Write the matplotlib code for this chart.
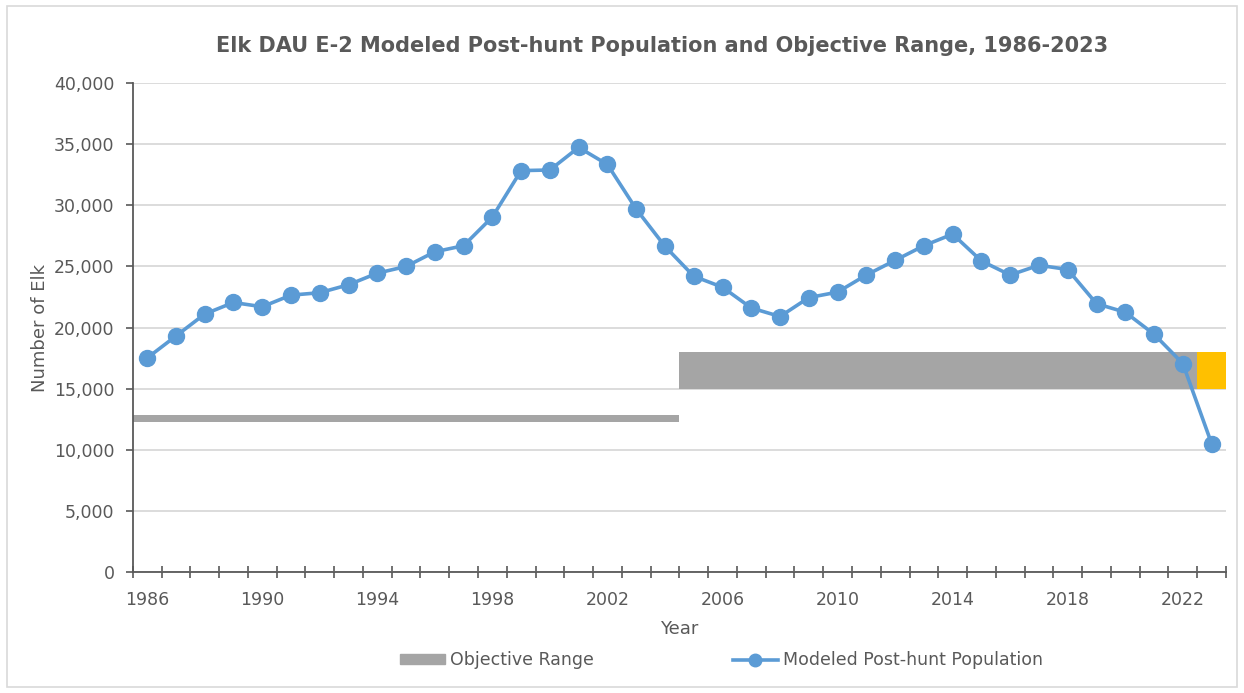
import matplotlib.pyplot as plt
from matplotlib.patches import Patch, Rectangle
from matplotlib.lines import Line2D
from matplotlib.ticker import FuncFormatter, MultipleLocator

# Modeled post-hunt population
years = list(range(1986, 2024))
population = [17500, 19300, 21100, 22050, 21700, 22650, 22850, 23500, 24450, 25000,
              26200, 26700, 29050, 32850, 32900, 34750, 33350, 29700, 26650, 24200,
              23300, 21600, 20900, 22450, 22900, 24300, 25500, 26700, 27650, 25450,
              24300, 25100, 24750, 21950, 21250, 19450, 17050, 10500]

# Objective range (min / max) by period
old_years = list(range(1986, 2005))
old_min = 12300
old_max = 12850
new_years = list(range(2005, 2023))
new_min = 15000
new_max = 18000
last_year = [2023]

GREY_TXT = '#595959'
BLUE = '#5B9BD5'
RANGE_GREY = '#A5A5A5'
GOLD = '#FFC000'


def do_plot():
    fig = plt.figure(figsize=(12.44, 6.93), dpi=100)
    ax = fig.add_axes([0.1067, 0.175, 0.8788, 0.7048])

    ax.bar(old_years, [old_max - old_min] * len(old_years), bottom=old_min,
           width=1.0, color=RANGE_GREY, linewidth=0, zorder=2)
    ax.bar(new_years, [new_max - new_min] * len(new_years), bottom=new_min,
           width=1.0, color=RANGE_GREY, linewidth=0, zorder=2)
    ax.bar(last_year, [new_max - new_min], bottom=new_min,
           width=1.0, color=GOLD, linewidth=0, zorder=2)

    ax.plot(years, population, '-o', color=BLUE, lw=2.6, ms=11.5, zorder=3)

    ax.set_xlim(1985.5, 2023.5)
    ax.set_ylim(0, 40000)
    ax.yaxis.set_major_locator(MultipleLocator(5000))
    ax.yaxis.set_major_formatter(FuncFormatter(lambda v, p: '{:,.0f}'.format(v)))
    ax.grid(axis='y', color='#d9d9d9', lw=1.3, zorder=0)
    ax.set_axisbelow(True)

    ax.set_xticks(list(range(1986, 2024, 4)))
    ax.set_xticks([1985.5 + k for k in range(39)], minor=True)
    ax.tick_params(axis='x', which='major', length=0, pad=14,
                   labelsize=12.5, labelcolor=GREY_TXT)
    ax.tick_params(axis='x', which='minor', direction='inout', length=9,
                   width=1.2, color='#595959')
    ax.tick_params(axis='y', which='major', direction='out', length=5,
                   width=1.2, color='#595959', labelsize=12.5,
                   labelcolor=GREY_TXT, pad=8)

    for s in ['top', 'right']:
        ax.spines[s].set_visible(False)
    for s in ['left', 'bottom']:
        ax.spines[s].set_color('#595959')
        ax.spines[s].set_linewidth(1.3)

    ax.set_ylabel('Number of Elk', fontsize=13, color=GREY_TXT, labelpad=4)
    ax.set_xlabel('Year', fontsize=13, color=GREY_TXT, labelpad=8)
    fig.text(0.532, 0.934, 'Elk DAU E-2 Modeled Post-hunt Population and Objective Range, 1986-2023',
             ha='center', va='center', fontsize=15, fontweight='bold', color=GREY_TXT)

    handles = [Patch(color=RANGE_GREY),
               Line2D([], [], color=BLUE, lw=2.6, marker='o', ms=9)]
    fig.legend(handles, ['Objective Range', 'Modeled Post-hunt Population'],
               loc='center', bbox_to_anchor=(0.58, 0.047), ncol=2, frameon=False,
               fontsize=12.5, labelcolor=GREY_TXT, handlelength=2.6,
               handleheight=0.5, handletextpad=0.3, columnspacing=8)

    fig.patches.append(Rectangle((0.006, 0.008), 0.988, 0.984, transform=fig.transFigure,
                                 fill=False, edgecolor='#d9d9d9', lw=1.2))

    plt.savefig('out.png', dpi=100)


if __name__ == '__main__':
    do_plot()
